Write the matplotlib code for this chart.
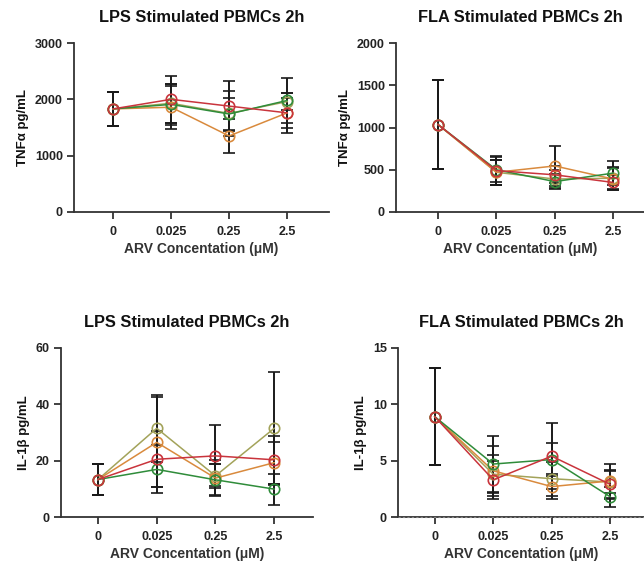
import matplotlib
matplotlib.use("Agg")
import matplotlib.pyplot as plt
import numpy as np

plt.rcParams['font.family'] = ['Liberation Sans', 'DejaVu Sans']

conc_labels = ['0', '0.025', '0.25', '2.5']
series_names = ['olive', 'orange', 'green', 'red']
series_colors = ['#a3a35a', '#d98a3d', '#2f8c3a', '#c9343c']

# TNFa, LPS
tnf_lps_mean = {
    'olive':  [1830, 1930, 1750, 1960],
    'orange': [1830, 1860, 1350, 1760],
    'red':    [1830, 2000, 1880, 1760],
    'green':  [1830, 1910, 1740, 1980],
}
tnf_lps_sd = {
    'olive':  [300, 350, 400, 150],
    'orange': [300, 380, 300, 260],
    'red':    [300, 420, 440, 360],
    'green':  [300, 370, 280, 400],
}
# TNFa, FLA
tnf_fla_mean = {
    'olive':  [1035, 470, 390, 400],
    'orange': [1035, 470, 545, 390],
    'red':    [1035, 490, 440, 350],
    'green':  [1035, 500, 360, 460],
}
tnf_fla_sd = {
    'olive':  [525, 150, 110, 130],
    'orange': [525, 150, 240, 130],
    'red':    [525, 170, 100, 90],
    'green':  [525, 150, 90, 140],
}
# IL-1b, LPS
il1_lps_mean = {
    'olive':  [13.3, 31.5, 14.6, 31.5],
    'orange': [13.3, 26.5, 13.8, 19.3],
    'red':    [13.3, 20.5, 21.7, 20.3],
    'green':  [13.3, 16.9, 13.2, 9.9],
}
il1_lps_sd = {
    'olive':  [5.4, 11.8, 4.2, 20.0],
    'orange': [5.4, 16.0, 6.5, 7.5],
    'red':    [5.4, 10.0, 10.8, 8.5],
    'green':  [5.4, 8.5, 5.5, 5.5],
}
# IL-1b, FLA
il1_fla_mean = {
    'olive':  [8.9, 3.8, 3.4, 3.1],
    'orange': [8.9, 4.1, 2.7, 3.2],
    'red':    [8.9, 3.3, 5.4, 2.9],
    'green':  [8.9, 4.7, 5.1, 1.8],
}
il1_fla_sd = {
    'olive':  [4.3, 1.7, 1.5, 1.0],
    'orange': [4.3, 2.2, 1.1, 1.5],
    'red':    [4.3, 1.7, 2.9, 1.3],
    'green':  [4.3, 2.5, 1.5, 0.9],
}

W, H = 644, 561
fig = plt.figure(figsize=(W / 100, H / 100), dpi=100)

def px_axes(x0, x1, y0, y1):
    return fig.add_axes([x0 / W, (H - y1) / H, (x1 - x0) / W, (y1 - y0) / H])

panels = [
    dict(box=(74, 329, 43, 212), xlim=(-0.672, 3.72), ylim=3000, yticks=[0, 1000, 2000, 3000],
         mean=tnf_lps_mean, sd=tnf_lps_sd, title='LPS Stimulated PBMCs 2h', ylabel='TNFα pg/mL', dash=False),
    dict(box=(396, 644, 43, 212), xlim=(-0.72, 3.53), ylim=2000, yticks=[0, 500, 1000, 1500, 2000],
         mean=tnf_fla_mean, sd=tnf_fla_sd, title='FLA Stimulated PBMCs 2h', ylabel='TNFα pg/mL', dash=False),
    dict(box=(61, 313, 348, 517), xlim=(-0.63, 3.66), ylim=60, yticks=[0, 20, 40, 60],
         mean=il1_lps_mean, sd=il1_lps_sd, title='LPS Stimulated PBMCs 2h', ylabel='IL-1β pg/mL', dash=False),
    dict(box=(398, 644, 348, 517), xlim=(-0.63, 3.58), ylim=15, yticks=[0, 5, 10, 15],
         mean=il1_fla_mean, sd=il1_fla_sd, title='FLA Stimulated PBMCs 2h', ylabel='IL-1β pg/mL', dash=True),
]

x = np.arange(len(conc_labels))
spine_col = '#333333'
for p in panels:
    ax = px_axes(*p['box'])
    for name, col in zip(series_names, series_colors):
        m = p['mean'][name]
        s = p['sd'][name]
        ax.errorbar(x, m, yerr=s, fmt='none', ecolor='#1a1a1a', elinewidth=1.4,
                    capsize=4.5, capthick=1.2, zorder=3, clip_on=False)
        ax.plot(x, m, color=col, lw=1.1, marker='o', markersize=7.5, markerfacecolor='none',
                markeredgecolor=col, markeredgewidth=1.2, zorder=4, clip_on=False)
    ax.set_xlim(*p['xlim'])
    ax.set_ylim(0, p['ylim'])
    ax.set_yticks(p['yticks'])
    ax.set_xticks(x)
    ax.set_xticklabels(conc_labels)
    for sp in ['top', 'right']:
        ax.spines[sp].set_visible(False)
    for sp in ['left', 'bottom']:
        ax.spines[sp].set_color(spine_col)
        ax.spines[sp].set_linewidth(1.3)
    ax.tick_params(axis='both', direction='out', length=5, width=1.3, color=spine_col,
                   labelsize=9, labelcolor='#222222', pad=3)
    ax.tick_params(axis='x', pad=5)
    for lab in ax.get_xticklabels() + ax.get_yticklabels():
        lab.set_fontweight('bold')
    ax.set_title(p['title'], fontsize=11.8, fontweight='bold', color='#111111', pad=15)
    ax.set_xlabel('ARV Concentation (μM)', fontsize=10, fontweight='bold', color='#333333', labelpad=3)
    ax.set_ylabel(p['ylabel'], fontsize=9.5, fontweight='bold', color='#111111', labelpad=4)
    if p['dash']:
        ax.axhline(0, color='#888888', lw=0.8, ls=(0, (2, 2)), zorder=5, clip_on=False)

fig.savefig('out.png', dpi=100)
